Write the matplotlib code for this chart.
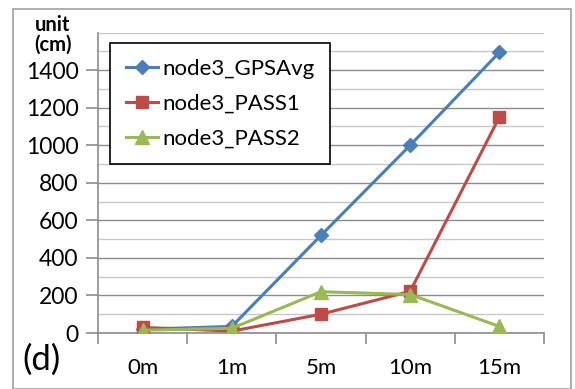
import matplotlib
matplotlib.use("Agg")
import matplotlib.pyplot as plt
from matplotlib.patches import Rectangle
from matplotlib.ticker import MultipleLocator

categories = ["0m", "1m", "5m", "10m", "15m"]
gps_avg = [20, 35, 520, 1000, 1495]
pass1 = [30, 10, 100, 222, 1150]
pass2 = [15, 25, 220, 205, 35]
y_ticks = [0, 200, 400, 600, 800, 1000, 1200, 1400]

plt.rcParams['font.family'] = ['Lato', 'DejaVu Sans']

fig = plt.figure(figsize=(5.75, 3.89), dpi=100)
fig.patches.append(Rectangle((13/575, 0.0), (571-13)/575, 1 - 9/389, transform=fig.transFigure,
                             fill=False, edgecolor='#a0a0a0', linewidth=1.2))
ax = fig.add_axes([98/575, 1 - 333/389, (544-98)/575, (333-32.6)/389])

x = list(range(len(categories)))
ax.plot(x, gps_avg, color='#4a7ebb', marker='D', markersize=7, linewidth=2.2, label='node3_GPSAvg', zorder=3)
ax.plot(x, pass1, color='#be4b48', marker='s', markersize=9, linewidth=2.2, label='node3_PASS1', zorder=4)
ax.plot(x, pass2, color='#98b954', marker='^', markersize=10, linewidth=2.2, label='node3_PASS2', zorder=5)

ax.set_xlim(-0.5, len(categories) - 0.5)
ax.set_ylim(0, 1600)
ax.set_yticks(y_ticks)
ax.yaxis.set_minor_locator(MultipleLocator(100))
ax.grid(axis='y', which='major', color='#8c8c8c', linewidth=1.0, zorder=0)
ax.grid(axis='y', which='minor', color='#c8c8c8', linewidth=1.0, zorder=0)
ax.set_axisbelow(True)

ax.set_xticks(x)
ax.set_xticklabels(categories)
ax.set_xticks([i + 0.5 for i in range(-1, len(categories))], minor=True)
ax.tick_params(axis='x', which='major', length=0, labelsize=16, pad=18)
ax.tick_params(axis='x', which='minor', length=8, color='#8c8c8c', width=1.2)
ax.tick_params(axis='y', which='major', length=9, color='#8c8c8c', width=1.2, labelsize=16.5, pad=5)
ax.tick_params(axis='y', which='minor', length=0)

for s in ['top', 'right']:
    ax.spines[s].set_visible(False)
for s in ['left', 'bottom']:
    ax.spines[s].set_color('#8c8c8c')
    ax.spines[s].set_linewidth(1.2)

leg = ax.legend(loc='upper left', bbox_to_anchor=(12/446, 1 - 10.4/300), borderaxespad=0,
                fontsize=16, frameon=True, fancybox=False, edgecolor='black', framealpha=1,
                handlelength=1.45, borderpad=0.7, labelspacing=0.68, handletextpad=0.2)
leg.get_frame().set_linewidth(1.2)

fig.text(53/575, 1 - 35/389, "unit\n(cm)", ha='center', va='center', fontsize=14.5,
         fontweight='bold', linespacing=1.0)
fig.text(42/575, 1 - 360/389, "(d)", ha='center', va='center', fontsize=25)

fig.savefig("out.png", dpi=100)
